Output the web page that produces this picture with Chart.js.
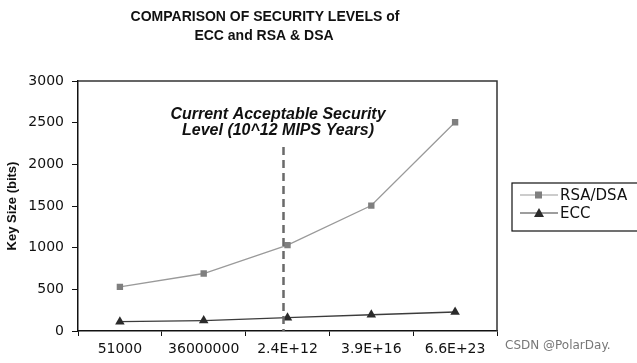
<!DOCTYPE html>
<html>
<head>
<meta charset="utf-8">
<script src="https://cdn.jsdelivr.net/npm/chart.js@4.4.0/dist/chart.umd.min.js"></script>
<style>
  html, body { margin: 0; padding: 0; background: #fff; }
  #chart { display: block; }
</style>
</head>
<body>
<canvas id="chart" width="637" height="363"></canvas>
<script>
const mipsYears = ['51000', '36000000', '2.4E+12', '3.9E+16', '6.6E+23'];
const rsaDsa = [530, 690, 1030, 1505, 2505];
const ecc = [112, 125, 160, 195, 228];
const yTicks = [0, 500, 1000, 1500, 2000, 2500, 3000];

const titleLines = ['COMPARISON OF SECURITY LEVELS of', 'ECC and RSA & DSA'];
const noteLines = ['Current Acceptable Security', 'Level (10^12 MIPS Years)'];
const noteIndex = 2;

// extra drawing: frame, dashed marker line, titles, legend, credit
const decor = {
    id: 'decor',
    afterDraw(chart) {
        const ctx = chart.ctx;
        const area = chart.chartArea;
        const x = chart.scales.x;

        ctx.save();
        // top + right frame
        ctx.strokeStyle = '#333';
        ctx.lineWidth = 1.5;
        ctx.beginPath();
        ctx.moveTo(area.left, area.top);
        ctx.lineTo(area.right, area.top);
        ctx.lineTo(area.right, area.bottom);
        ctx.stroke();

        // dashed line at current acceptable level
        const lx = x.getPixelForValue(noteIndex) - 4;
        ctx.strokeStyle = '#6a6a6a';
        ctx.lineWidth = 2.5;
        ctx.setLineDash([8, 5]);
        ctx.beginPath();
        ctx.moveTo(lx, 147);
        ctx.lineTo(lx, area.bottom);
        ctx.stroke();
        ctx.setLineDash([]);

        ctx.fillStyle = '#111';
        ctx.textAlign = 'center';
        ctx.textBaseline = 'middle';
        ctx.font = 'italic bold 16px "Liberation Sans", Arial, sans-serif';
        ctx.fillText(noteLines[0], 278, 115);
        ctx.fillText(noteLines[1], 278, 131);

        // chart title
        ctx.font = 'bold 14px "Liberation Sans", Arial, sans-serif';
        ctx.fillText(titleLines[0], 265, 17);
        ctx.fillText(titleLines[1], 264, 36);

        // y axis title
        ctx.save();
        ctx.translate(12, (area.top + area.bottom) / 2);
        ctx.rotate(-Math.PI / 2);
        ctx.font = 'bold 13px "Liberation Sans", Arial, sans-serif';
        ctx.fillText('Key Size (bits)', 0, 0);
        ctx.restore();

        // legend box
        ctx.strokeStyle = '#111';
        ctx.lineWidth = 1.2;
        ctx.strokeRect(512, 183, 140, 48);
        ctx.textAlign = 'left';
        ctx.font = '15px "DejaVu Sans", sans-serif';
        chart.data.datasets.forEach((ds, i) => {
            const y = 195 + i * 18;
            ctx.strokeStyle = ds.borderColor;
            ctx.lineWidth = 1.2;
            ctx.beginPath();
            ctx.moveTo(520, y);
            ctx.lineTo(558, y);
            ctx.stroke();
            ctx.fillStyle = ds.pointBackgroundColor;
            if (ds.pointStyle === 'rect') {
                ctx.fillRect(535, y - 3.5, 7, 7);
            } else {
                ctx.beginPath();
                ctx.moveTo(539, y - 5);
                ctx.lineTo(544, y + 4);
                ctx.lineTo(534, y + 4);
                ctx.closePath();
                ctx.fill();
            }
            ctx.fillStyle = '#111';
            ctx.fillText(ds.label, 560, y + 1);
        });

        // credit
        ctx.fillStyle = '#777';
        ctx.font = '12px "DejaVu Sans", sans-serif';
        ctx.fillText('CSDN @PolarDay.', 505, 346);
        ctx.restore();
    }
};

new Chart(document.getElementById('chart'), {
    type: 'line',
    data: {
        labels: mipsYears,
        datasets: [{
            label: 'RSA/DSA',
            data: rsaDsa,
            borderColor: '#9a9a9a',
            borderWidth: 1.3,
            pointStyle: 'rect',
            pointRadius: 4.5,
            pointBackgroundColor: '#7f7f7f',
            pointBorderColor: '#7f7f7f',
            pointBorderWidth: 0,
            tension: 0
        }, {
            label: 'ECC',
            data: ecc,
            borderColor: '#3c3c3c',
            borderWidth: 1.3,
            pointStyle: 'triangle',
            pointRadius: 5.5,
            pointBackgroundColor: '#2b2b2b',
            pointBorderColor: '#2b2b2b',
            pointBorderWidth: 0,
            tension: 0
        }]
    },
    options: {
        responsive: false,
        animation: false,
        layout: { padding: { top: 81, right: 140, bottom: 0, left: 0 } },
        plugins: {
            legend: { display: false },
            title: { display: false },
            tooltip: { enabled: false }
        },
        scales: {
            x: {
                offset: true,
                afterFit: s => { s.height = 32; },
                grid: {
                    offset: true,
                    drawOnChartArea: false,
                    tickLength: 5,
                    color: '#111'
                },
                border: { color: '#111', width: 1.5 },
                ticks: {
                    color: '#111',
                    padding: 5,
                    maxRotation: 0,
                    font: { family: 'DejaVu Sans', size: 14 }
                }
            },
            y: {
                min: 0,
                max: 3000,
                afterFit: s => { s.width = 78; },
                afterBuildTicks: s => { s.ticks = yTicks.map(v => ({ value: v })); },
                grid: {
                    drawOnChartArea: false,
                    tickLength: 6,
                    color: '#111'
                },
                border: { color: '#111', width: 1.5 },
                ticks: {
                    color: '#111',
                    padding: 8,
                    callback: v => String(v),
                    font: { family: 'DejaVu Sans', size: 14 }
                }
            }
        }
    },
    plugins: [decor]
});
</script>
</body>
</html>
